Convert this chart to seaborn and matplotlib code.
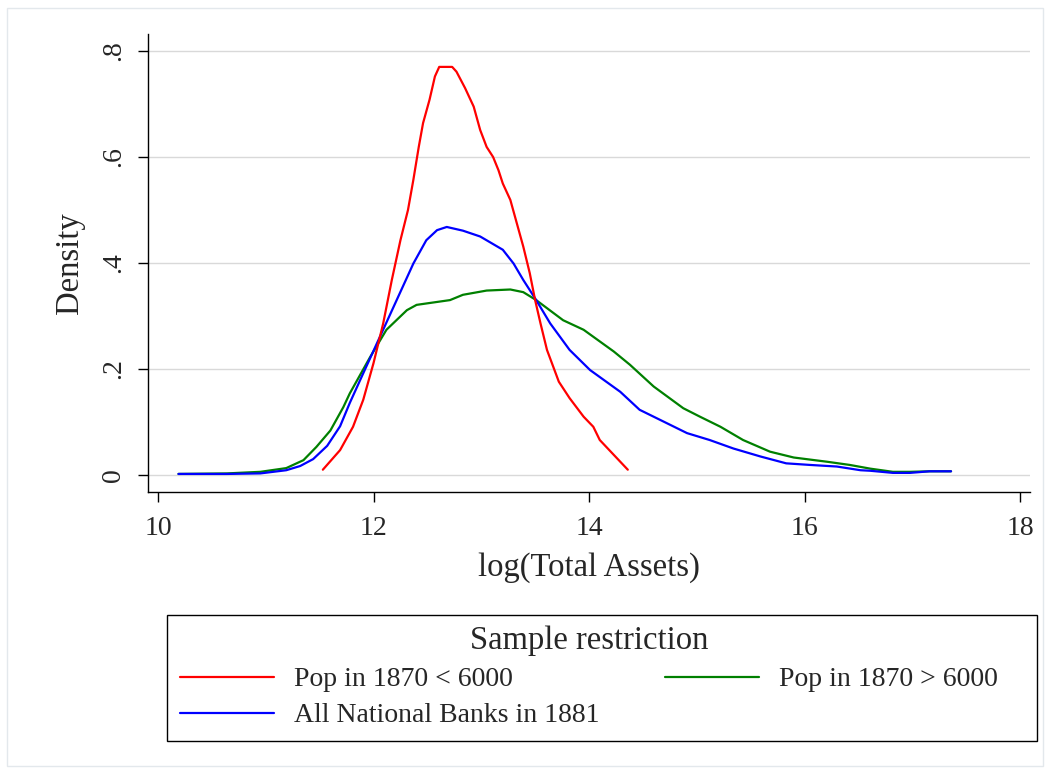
import numpy as np
import pandas as pd
import matplotlib
matplotlib.use("Agg")
import matplotlib.pyplot as plt
import seaborn as sns
from matplotlib.lines import Line2D
from matplotlib.patches import Rectangle

# ---- data ----
red_x = [11.53, 11.69, 11.81, 11.905, 12.0, 12.09, 12.17, 12.25, 12.32, 12.37, 12.42, 12.46, 12.52,
         12.57, 12.61, 12.73, 12.77, 12.85, 12.93, 12.99, 13.05, 13.11, 13.16, 13.20, 13.27, 13.33,
         13.39, 13.45, 13.50, 13.55, 13.61, 13.72, 13.82, 13.95, 14.04, 14.10, 14.23, 14.36]
red_y = [0.010, 0.047, 0.091, 0.142, 0.211, 0.286, 0.368, 0.443, 0.500, 0.557, 0.619, 0.664, 0.708,
         0.752, 0.770, 0.770, 0.761, 0.730, 0.695, 0.651, 0.619, 0.600, 0.575, 0.550, 0.519, 0.475,
         0.431, 0.381, 0.330, 0.286, 0.236, 0.176, 0.145, 0.110, 0.091, 0.066, 0.038, 0.010]

blue_x = [10.19, 10.64, 10.95, 11.19, 11.32, 11.44, 11.57, 11.69, 11.78, 11.905, 12.06, 12.215, 12.37,
          12.49, 12.59, 12.68, 12.83, 12.99, 13.20, 13.30, 13.39, 13.51, 13.64, 13.82, 14.01, 14.29,
          14.47, 14.66, 14.91, 15.12, 15.34, 15.59, 15.83, 16.05, 16.30, 16.52, 16.61, 16.82, 16.98,
          17.16, 17.36]
blue_y = [0.002, 0.002, 0.003, 0.009, 0.017, 0.030, 0.055, 0.092, 0.136, 0.192, 0.261, 0.330, 0.399,
          0.443, 0.462, 0.468, 0.461, 0.450, 0.425, 0.399, 0.368, 0.330, 0.286, 0.236, 0.198, 0.157,
          0.123, 0.104, 0.079, 0.066, 0.050, 0.035, 0.022, 0.019, 0.016, 0.009, 0.008, 0.004, 0.004,
          0.007, 0.007]

green_x = [10.19, 10.64, 10.95, 11.19, 11.35, 11.47, 11.60, 11.72, 11.78, 11.97, 12.12, 12.31, 12.40,
           12.71, 12.83, 13.05, 13.27, 13.39, 13.51, 13.76, 13.95, 14.23, 14.38, 14.60, 14.875, 15.03,
           15.22, 15.43, 15.68, 15.90, 16.21, 16.42, 16.61, 16.82, 16.98, 17.16, 17.36]
green_y = [0.002, 0.003, 0.006, 0.013, 0.028, 0.053, 0.084, 0.128, 0.154, 0.223, 0.274, 0.311, 0.321,
           0.330, 0.340, 0.348, 0.350, 0.345, 0.330, 0.292, 0.274, 0.233, 0.208, 0.167, 0.126, 0.110,
           0.091, 0.066, 0.044, 0.033, 0.025, 0.019, 0.012, 0.006, 0.006, 0.007, 0.007]

labels = ["Pop in 1870 < 6000", "All National Banks in 1881", "Pop in 1870 > 6000"]
colors = ["#ff0000", "#0000ff", "#008000"]
x_ticks = [10, 12, 14, 16, 18]
y_ticks = [0, 0.2, 0.4, 0.6, 0.8]
y_ticklabels = ["0", ".2", ".4", ".6", ".8"]

df = pd.concat([
    pd.DataFrame({"x": red_x, "y": red_y, "series": labels[0]}),
    pd.DataFrame({"x": blue_x, "y": blue_y, "series": labels[1]}),
    pd.DataFrame({"x": green_x, "y": green_y, "series": labels[2]}),
], ignore_index=True)

sns.set_style("white")
plt.rcParams["font.family"] = ["Liberation Serif", "DejaVu Serif"]

W, H = 1050, 773
fig = plt.figure(figsize=(W / 100, H / 100), dpi=100)
ax = fig.add_axes([148 / W, 1 - 492 / H, (1030 - 148) / W, (492 - 34) / H])

# draw order: green, blue, red (red on top)
for lab, col in [(labels[2], colors[2]), (labels[1], colors[1]), (labels[0], colors[0])]:
    sns.lineplot(data=df[df["series"] == lab], x="x", y="y", color=col, lw=1.6,
                 estimator=None, sort=False, ax=ax, legend=False)

ax.set_xlim(10 - 10 / 107.75, 18 + 10 / 107.75)
ax.set_ylim(-17 / 530, 0.8 + 17 / 530)
ax.set_xticks(x_ticks)
ax.set_xticklabels([str(t) for t in x_ticks])
ax.set_yticks(y_ticks)
ax.set_yticklabels(y_ticklabels, rotation=90, va="center")
ax.grid(axis="y", color="#d9d9d9", lw=1.0)
ax.set_axisbelow(True)
for s in ["top", "right"]:
    ax.spines[s].set_visible(False)
for s in ["left", "bottom"]:
    ax.spines[s].set_color("black")
    ax.spines[s].set_linewidth(1.0)
ax.tick_params(axis="both", direction="out", length=7.5, width=1.0, color="black",
               labelsize=20, left=True, bottom=True)
ax.tick_params(axis="x", pad=10)
ax.tick_params(axis="y", pad=8)
ax.set_xlabel("log(Total Assets)", fontsize=23.5, labelpad=8)
ax.set_ylabel("Density", fontsize=23.5, labelpad=12)

handles = [Line2D([], [], color=c, lw=1.6) for c in colors]
leg = fig.legend(handles, labels, ncol=2, loc="upper left",
                 bbox_to_anchor=(180 / W, 1 - 750 / H, (998 - 180) / W, (750 - 626) / H),
                 mode="expand", title="Sample restriction", fontsize=20, title_fontsize=23.5,
                 frameon=False, handlelength=3.4, borderaxespad=0, labelspacing=0.38,
                 borderpad=0, handletextpad=0.72)

fig.patches.append(Rectangle((167 / W, 1 - 741 / H), (1037 - 167) / W, (741 - 615) / H,
                             transform=fig.transFigure, fill=False, edgecolor="black", lw=1.0))
fig.patches.append(Rectangle((7 / W, 1 - 766 / H), (1043 - 7) / W, (766 - 8) / H,
                             transform=fig.transFigure, fill=False, edgecolor="#e3e8ec", lw=1.0))

fig.savefig("out.png", dpi=100, facecolor="white")
